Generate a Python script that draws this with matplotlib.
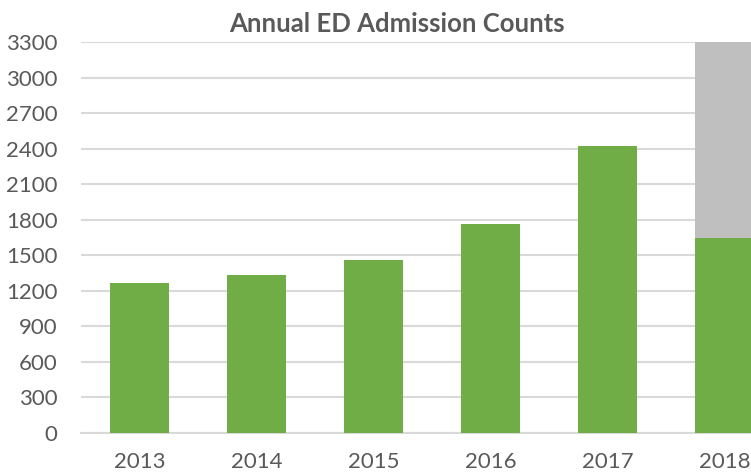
import numpy as np
import matplotlib.pyplot as plt

years = ['2013', '2014', '2015', '2016', '2017', '2018']
admissions = [1267, 1331, 1461, 1768, 2421, 1644]
projected_extra = [0, 0, 0, 0, 0, 1656]
y_ticks = list(range(0, 3301, 300))

green = '#70AD47'
grey = '#BFBFBF'
text_col = '#595959'

fig = plt.figure(figsize=(7.51, 4.75), dpi=100)
# plot area runs past the right edge, like the cropped original
ax = fig.add_axes([81/751, 42/475, 702/751, 391/475])

x = np.arange(len(years))
ax.bar(x, admissions, width=0.5, color=green, zorder=3)
ax.bar(x, projected_extra, width=0.5, bottom=admissions, color=grey, zorder=3)

ax.set_xlim(-0.5, len(years) - 0.5)
ax.set_ylim(0, 3300)
ax.set_yticks(y_ticks)
ax.set_xticks(x)
ax.set_xticklabels(years)
ax.yaxis.grid(True, color='#D9D9D9', linewidth=1.5, zorder=0)
for s in ['top', 'right', 'left']:
    ax.spines[s].set_visible(False)
ax.spines['bottom'].set_color('#D9D9D9')
ax.spines['bottom'].set_linewidth(1.5)
ax.tick_params(axis='both', length=0, labelsize=16, labelcolor=text_col,
               labelfontfamily='Lato')
ax.tick_params(axis='y', pad=17)
ax.tick_params(axis='x', pad=14)

fig.text(397/751, 1 - 24/475, 'Annual ED Admission Counts', ha='center', va='center',
         fontsize=18.5, fontweight='bold', color=text_col, family='Lato')

fig.savefig('out.png', dpi=100)
